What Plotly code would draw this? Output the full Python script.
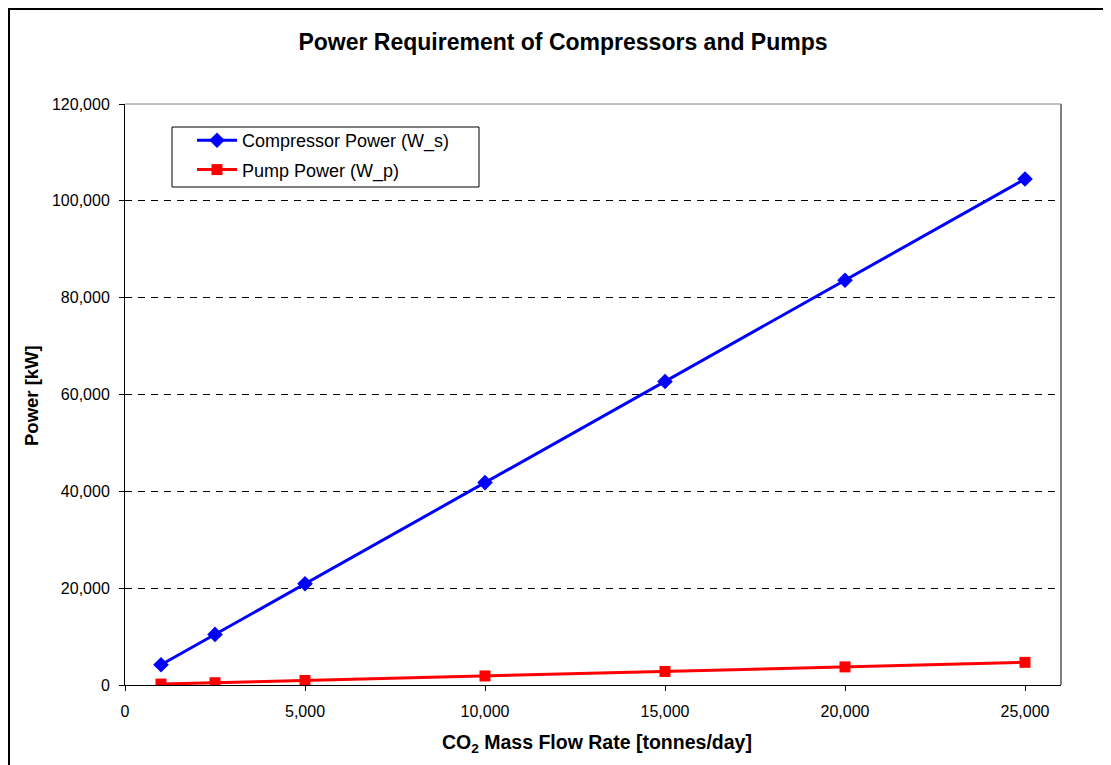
import plotly.graph_objects as go

flow_rate = [1000, 2500, 5000, 10000, 15000, 20000, 25000]
compressor_power = [4180, 10450, 20900, 41800, 62700, 83600, 104500]
pump_power = [190, 470, 935, 1870, 2800, 3740, 4680]

x_ticks = [0, 5000, 10000, 15000, 20000, 25000]
y_ticks = [0, 20000, 40000, 60000, 80000, 100000, 120000]

FONT = "Liberation Sans, Arial, sans-serif"

fig = go.Figure()
fig.add_trace(go.Scatter(
    x=flow_rate, y=compressor_power, mode="lines+markers",
    name="Compressor Power (W_s)", legendgroup="c",
    line=dict(color="#0000FF", width=3),
    marker=dict(symbol="diamond", size=12, color="#0000FF"),
))
fig.add_trace(go.Scatter(
    x=flow_rate, y=pump_power, mode="lines+markers",
    name="Pump Power (W_p)", legendgroup="p",
    line=dict(color="#FF0000", width=3),
    marker=dict(symbol="square", size=11, color="#FF0000"),
))

# page body has an 8px margin: figure coords = page coords - 8
OFF = 8
W, H = 1103, 757
L, R, T, B = 117, 50, 96, 80
pw, ph = W - L - R, H - T - B

def px_x(p):
    return (p - OFF - L) / pw

def px_y(p):
    return (H - B - (p - OFF)) / ph

fig.update_layout(
    width=W, height=H,
    margin=dict(l=L, r=R, t=T, b=B),
    paper_bgcolor="white", plot_bgcolor="white",
    font=dict(family=FONT, color="black", size=16),
    title=dict(text="<b>Power Requirement of Compressors and Pumps</b>",
               x=(563 - OFF) / W, xanchor="center", y=1 - (42 - OFF) / H, yanchor="middle",
               font=dict(size=23, family=FONT, color="black")),
    showlegend=True,
    legend=dict(x=px_x(192), y=px_y(122), xanchor="left", yanchor="top",
                bgcolor="rgba(0,0,0,0)", borderwidth=0,
                font=dict(size=18, family=FONT, color="black"),
                tracegroupgap=3, itemwidth=40),
    xaxis=dict(range=[0, 26000], tickvals=x_ticks, tickformat=",",
               showgrid=False, zeroline=False,
               showline=True, linecolor="black", linewidth=1,
               ticks="outside", ticklen=5, tickcolor="black",
               tickfont=dict(size=16, color="black"),
               ticklabelstandoff=7),
    yaxis=dict(range=[0, 120000], tickvals=y_ticks, tickformat=",",
               showgrid=True, gridcolor="black", gridwidth=1, griddash="7px,6px",
               zeroline=False,
               showline=True, linecolor="black", linewidth=1,
               ticks="outside", ticklen=5, tickcolor="black",
               tickfont=dict(size=16, color="black"),
               ticklabelstandoff=6),
)

# axis titles
fig.add_annotation(text="<b>CO<sub>2</sub> Mass Flow Rate [tonnes/day]</b>",
                   xref="paper", yref="paper", x=px_x(597), y=px_y(743),
                   xanchor="center", yanchor="middle", showarrow=False,
                   font=dict(size=19.5, family=FONT, color="black"))
fig.add_annotation(text="<b>Power [kW]</b>",
                   xref="paper", yref="paper", x=px_x(31), y=px_y(396),
                   xanchor="center", yanchor="middle", showarrow=False, textangle=-90,
                   font=dict(size=18.5, family=FONT, color="black"))

# plot area border (top and right, gray)
fig.add_shape(type="line", xref="paper", yref="paper", x0=0, x1=1, y0=1, y1=1,
              line=dict(color="#808080", width=1), layer="below")
fig.add_shape(type="line", xref="paper", yref="paper", x0=1, x1=1, y0=0, y1=1,
              line=dict(color="#808080", width=2), layer="below")

# legend box
fig.add_shape(type="rect", xref="paper", yref="paper",
              x0=px_x(172), x1=px_x(479), y0=px_y(187), y1=px_y(127),
              line=dict(color="black", width=1), fillcolor="white", layer="above")

# outer chart border (top and left visible; right/bottom cut off)
fig.add_shape(type="rect", xref="paper", yref="paper",
              x0=(1 - L) / pw, x1=(W + 20 - L) / pw,
              y0=(H - B - (H + 20)) / ph, y1=(H - B - 1) / ph,
              line=dict(color="black", width=2), fillcolor="rgba(0,0,0,0)")

fig.write_html("out.html")
